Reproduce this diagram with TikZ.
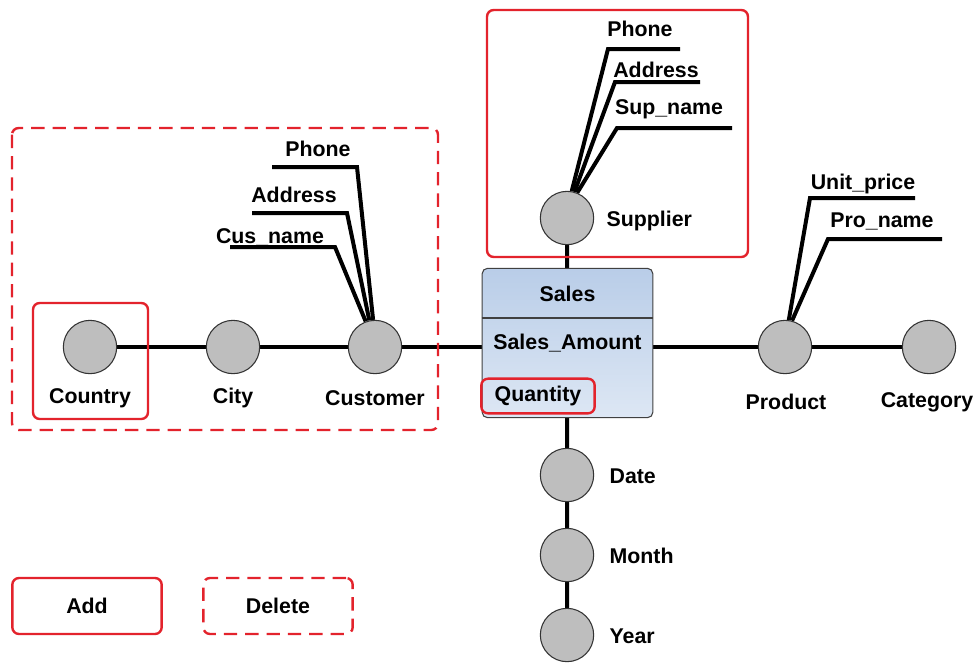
\documentclass[tikz,border=0pt]{standalone}
\usepackage{fontspec}
\setmainfont{Liberation Sans}
\usetikzlibrary{backgrounds}

\definecolor{markred}{HTML}{E3232C}
\definecolor{levgray}{HTML}{BEBEBE}
\definecolor{factblue}{HTML}{B9CDE8}
\definecolor{factlight}{HTML}{DDE7F4}

\tikzset{
  level/.style={circle, draw=black!80, fill=levgray, line width=0.8pt, minimum size=40pt, inner sep=0pt},
  lbl/.style={font=\bfseries\fontsize{16}{18}\selectfont, inner sep=1pt},
  link/.style={line width=3pt},
  addbox/.style={draw=markred, line width=1.8pt, rounded corners=5pt},
  delbox/.style={addbox, dash pattern=on 10pt off 6pt},
  factbox/.style={draw=black!75, line width=0.8pt, rounded corners=4pt,
    top color=factblue, bottom color=factlight,
    minimum width=128pt, minimum height=112pt, inner sep=0pt},
}

\begin{document}
\begin{tikzpicture}[x=0.75pt,y=-0.75pt]
\useasboundingbox (0,0) rectangle (976,662);

% fact table
\node[factbox] (sales) at (567.5,343) {};
\draw[black!75, line width=0.8pt] (sales.west |- 0,318) -- (sales.east |- 0,318);
\node[lbl] (salesname) at (567.5,294) {Sales};
\node[lbl] (amount) at (567.5,343) {Sales\_Amount};
\node[lbl, addbox, minimum width=85pt, minimum height=26pt] (qty) at (538,396) {Quantity};

% levels
\node[level] (country) at (90,347) {};
\node[level] (city) at (233,347) {};
\node[level] (cust) at (375,347) {};
\node[level] (sup) at (567,218) {};
\node[level] (prod) at (785,347) {};
\node[level] (cat) at (929,347) {};
\node[level] (date) at (567,475) {};
\node[level] (month) at (567,555) {};
\node[level] (year) at (567,635) {};

\node[lbl] (countryL) at (90,398) {Country};
\node[lbl] (cityL) at (233,398) {City};
\node[lbl] (custL) at (375,398) {Customer};
\node[lbl, anchor=west] (supL) at (605,221) {Supplier};
\node[lbl] (prodL) at (786,402) {Product};
\node[lbl] (catL) at (927,402) {Category};
\node[lbl, anchor=west] (dateL) at (608,476) {Date};
\node[lbl, anchor=west] (monthL) at (608,556) {Month};
\node[lbl, anchor=west] (yearL) at (608,636) {Year};

% attribute labels
\node[lbl] (cusname) at (270,237) {Cus\_name};
\node[lbl] (cusaddr) at (294,195) {Address};
\node[lbl] (cusphone) at (318,149) {Phone};
\node[lbl] (supphone) at (640,29) {Phone};
\node[lbl] (supaddr) at (656,70) {Address};
\node[lbl] (supname) at (669,109) {Sup\_name};
\node[lbl] (unitprice) at (863,184) {Unit\_price};
\node[lbl] (proname) at (882,221) {Pro\_name};

\coordinate (cusnameA) at (230,247); \coordinate (cusnameB) at (335,247);
\coordinate (cusaddrA) at (252,213); \coordinate (cusaddrB) at (347,213);
\coordinate (cusphoneA) at (272,167); \coordinate (cusphoneB) at (357,167);
\coordinate (supphoneA) at (680,49); \coordinate (supphoneB) at (608,49);
\coordinate (supaddrA) at (700,82); \coordinate (supaddrB) at (615,82);
\coordinate (supnameA) at (732,128); \coordinate (supnameB) at (617,128);
\coordinate (unitpriceA) at (915,198); \coordinate (unitpriceB) at (810,198);
\coordinate (pronameA) at (942,239); \coordinate (pronameB) at (828,239);

\begin{pgfonlayer}{background}
% the fact box hides the part of the line behind it
\draw[link] (country) -- (city) -- (cust) -- (prod) -- (cat);
\draw[link] (sup) -- (sales) -- (date) -- (month) -- (year);
\draw[link] (cusnameA) -- (cusnameB) -- (cust.110);
\draw[link] (cusaddrA) -- (cusaddrB) -- (cust.102);
\draw[link] (cusphoneA) -- (cusphoneB) -- (cust.94);
\draw[link] (supphoneA) -- (supphoneB) -- (sup.80);
\draw[link] (supaddrA) -- (supaddrB) -- (sup.74);
\draw[link] (supnameA) -- (supnameB) -- (sup.68);
\draw[link] (unitpriceA) -- (unitpriceB) -- (prod.82);
\draw[link] (pronameA) -- (pronameB) -- (prod.75);
\end{pgfonlayer}

% changes
\draw[delbox] (12,128) rectangle (438,430);
\draw[addbox] (33,303) rectangle (148,419);
\draw[addbox] (487,10) rectangle (748,257);

% legend
\node[lbl, addbox, minimum width=112pt, minimum height=42pt] (add) at (87,606) {Add};
\node[lbl, delbox, minimum width=112pt, minimum height=42pt] (del) at (278,606) {Delete};
\end{tikzpicture}
\end{document}
